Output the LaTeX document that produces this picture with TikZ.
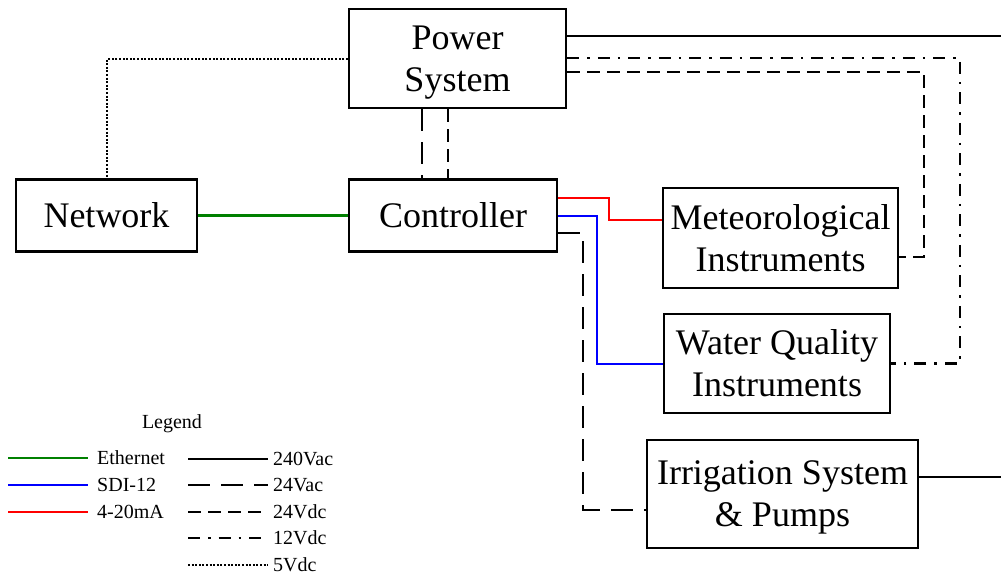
\documentclass[tikz,border=0pt]{standalone}
\usepackage{fontspec}
\setmainfont{Liberation Serif}
\begin{document}
\begin{tikzpicture}[x=1pt,y=-1pt,
  box/.style={draw=black,line width=2.6pt,inner sep=0pt,align=center,font=\fontsize{36}{42}\selectfont},
  conn/.style={line width=2.3pt},
  vac240/.style={conn,line width=2.7pt},
  vac24/.style={conn,dash pattern=on 22pt off 11pt},
  vdc24/.style={conn,dash pattern=on 13pt off 7pt},
  vdc12/.style={conn,dash pattern=on 12pt off 8pt on 2.5pt off 8pt},
  vdc5/.style={conn,dash pattern=on 2pt off 1.6pt},
  eth/.style={conn,draw={rgb,255:red,0;green,128;blue,0}},
  sdi/.style={conn,draw={rgb,255:red,0;green,0;blue,255}},
  ma/.style={conn,draw={rgb,255:red,255;green,0;blue,0}},
  leg/.style={anchor=west,inner sep=0pt,font=\fontsize{20}{24}\selectfont}]
\useasboundingbox (0,0) rectangle (1001,579);

% boxes
\node[box,minimum width=217pt,minimum height=99pt] (power) at (457.5,58.5) {Power\\\smash{System}};
\node[box,minimum width=208pt,minimum height=72pt] (ctrl) at (453,215.5) {Controller};
\node[box,minimum width=181pt,minimum height=72pt] (net) at (106.5,215.5) {Network};
\node[box,minimum width=235pt,minimum height=100pt] (met) at (780.5,238) {Meteorological\\Instruments};
\node[box,minimum width=226pt,minimum height=99pt] (wq) at (777,363.5) {Water Quality\\Instruments};
\node[box,minimum width=271pt,minimum height=108pt] (irr) at (782.5,494) {\raisebox{-2pt}{Irrigation System}\\[2pt]\smash{\& Pumps}};

% coordinates
\coordinate (p240) at (1001,36);
\coordinate (p12) at (960,58);
\coordinate (p24) at (924,72);
\coordinate (m24) at (924,257);
\coordinate (p5) at (107,59);
\coordinate (x422) at (422,0);
\coordinate (x448) at (448,0);
\coordinate (r1) at (609,198);
\coordinate (r2) at (609,220);
\coordinate (b1) at (597,216);
\coordinate (b2) at (597,364);
\coordinate (d1) at (583,233);
\coordinate (d2) at (583,510);
\coordinate (i240) at (1001,477);

% power connectors
\draw[vac240] (power.east |- p240) -- (p240);
\draw[vdc12] (power.east |- p12) -- (p12) |- (wq.east);
\draw[vdc24] (power.east |- p24) -- (p24) -- (m24) -- (met.east |- m24);
\draw[vdc5] (power.west |- p5) -- (p5) -- (p5 |- net.north);
\draw[vac24] (power.south -| x422) -- (ctrl.north -| x422);
\draw[vdc24] (power.south -| x448) -- (ctrl.north -| x448);

% controller connectors
\draw[eth] (net.east) -- (ctrl.west |- net.east);
\draw[ma] (ctrl.east |- r1) -- (r1) -- (r2) -- (met.west |- r2);
\draw[sdi] (ctrl.east |- b1) -- (b1) -- (b2) -- (wq.west |- b2);
\draw[vac24] (ctrl.east |- d1) -- (d1) -- (d2) -- (irr.west |- d2);
\draw[vac240] (irr.east |- i240) -- (i240);

% legend
\node[inner sep=0pt,font=\fontsize{20}{24}\selectfont] (legt) at (172,424) {Legend};
\coordinate (la1) at (8,458);  \coordinate (lb1) at (88,458);
\coordinate (la2) at (8,485);  \coordinate (lb2) at (88,485);
\coordinate (la3) at (8,512);  \coordinate (lb3) at (88,512);
\draw[eth] (la1) -- (lb1);
\draw[sdi] (la2) -- (lb2);
\draw[ma] (la3) -- (lb3);
\node[leg] (le1) at (97,458) {Ethernet};
\node[leg] (le2) at (97,485) {SDI-12};
\node[leg] (le3) at (97,512) {4-20mA};
\coordinate (ra1) at (188,459); \coordinate (rb1) at (268,459);
\coordinate (ra2) at (188,485); \coordinate (rb2) at (268,485);
\coordinate (ra3) at (188,512); \coordinate (rb3) at (268,512);
\coordinate (ra4) at (188,538); \coordinate (rb4) at (268,538);
\coordinate (ra5) at (188,565); \coordinate (rb5) at (268,565);
\draw[conn] (ra1) -- (rb1);
\draw[vac24] (ra2) -- (rb2);
\draw[vdc24] (ra3) -- (rb3);
\draw[vdc12] (ra4) -- (rb4);
\draw[vdc5] (ra5) -- (rb5);
\node[leg] (re1) at (273,459) {240Vac};
\node[leg] (re2) at (273,485) {24Vac};
\node[leg] (re3) at (273,512) {24Vdc};
\node[leg] (re4) at (273,538) {12Vdc};
\node[leg] (re5) at (273,565) {5Vdc};
\end{tikzpicture}
\end{document}
